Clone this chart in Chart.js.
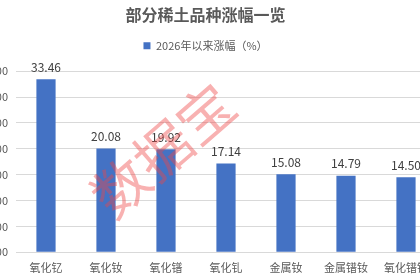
<!DOCTYPE html>
<html>
<head>
<meta charset="utf-8">
<script src="https://cdn.jsdelivr.net/npm/chart.js@4/dist/chart.umd.min.js"></script>
<style>
  html, body { margin: 0; padding: 0; background: #fff; overflow: hidden; }
  #wrap { position: absolute; left: -25px; top: 0; width: 470px; height: 280px; }
</style>
</head>
<body>
<div id="wrap"><canvas id="chart"></canvas></div>
<script>
const categories = ["氧化钇", "氧化钕", "氧化镨", "氧化钆", "金属钕", "金属镨钕", "氧化镨钕"];
const gains = [33.46, 20.08, 19.92, 17.14, 15.08, 14.79, 14.50];
const seriesName = "2026年以来涨幅（%）";
const chartTitle = "部分稀土品种涨幅一览";
const watermark = "数据宝";

const FONT = "'Noto Sans CJK SC', 'Noto Sans', sans-serif";

// extra room under the legend
const legendGap = {
  id: "legendGap",
  beforeInit(chart) {
    const fit = chart.legend.fit;
    chart.legend.fit = function () {
      fit.bind(chart.legend)();
      this.height += 10;
    };
  }
};

// value labels above each bar
const valueLabels = {
  id: "valueLabels",
  afterDatasetsDraw(chart) {
    const ctx = chart.ctx;
    const meta = chart.getDatasetMeta(0);
    ctx.save();
    ctx.font = "12px " + FONT;
    ctx.fillStyle = "#404040";
    ctx.textAlign = "center";
    ctx.textBaseline = "bottom";
    meta.data.forEach((bar, i) => {
      ctx.fillText(gains[i].toFixed(2), bar.x, bar.y - 6);
    });
    ctx.restore();
  }
};

// the pink "数据宝" stamp
const stamp = {
  id: "stamp",
  afterDraw(chart) {
    const ctx = chart.ctx;
    ctx.save();
    ctx.translate(188, 150);
    ctx.rotate(-41 * Math.PI / 180);
    ctx.font = "56px " + FONT;
    ctx.fillStyle = "rgba(238, 70, 70, 0.42)";
    ctx.textAlign = "center";
    ctx.textBaseline = "middle";
    ctx.fillText(watermark, 0, 0);
    ctx.restore();
  }
};

new Chart(document.getElementById("chart"), {
  type: "bar",
  data: {
    labels: categories,
    datasets: [{
      label: seriesName,
      data: gains,
      backgroundColor: "#4472C4",
      barPercentage: 0.32,
      categoryPercentage: 1
    }]
  },
  options: {
    responsive: true,
    maintainAspectRatio: false,
    animation: false,
    layout: { padding: { left: 0, right: 9, top: 0, bottom: 0 } },
    plugins: {
      title: {
        display: true,
        text: chartTitle,
        color: "#595959",
        font: { family: FONT, size: 16, weight: "bold" },
        padding: { top: 5, bottom: 10 }
      },
      legend: {
        labels: {
          color: "#595959",
          font: { family: FONT, size: 11 },
          boxWidth: 7,
          boxHeight: 7,
          padding: 6
        }
      },
      tooltip: { enabled: false }
    },
    scales: {
      y: {
        min: 0,
        max: 35,
        afterFit: (s) => { s.width = 41; },
        ticks: {
          stepSize: 5,
          padding: 8,
          color: "#595959",
          font: { family: FONT, size: 11 },
          callback: (v) => v.toFixed(2)
        },
        grid: { color: "#d9d9d9", drawTicks: false },
        border: { display: false }
      },
      x: {
        afterFit: (s) => { s.height = 27.7; },
        ticks: {
          padding: 1,
          color: "#595959",
          font: { family: FONT, size: 11 }
        },
        grid: { display: false },
        border: { color: "#d9d9d9" }
      }
    }
  },
  plugins: [legendGap, valueLabels, stamp]
});
</script>
</body>
</html>
